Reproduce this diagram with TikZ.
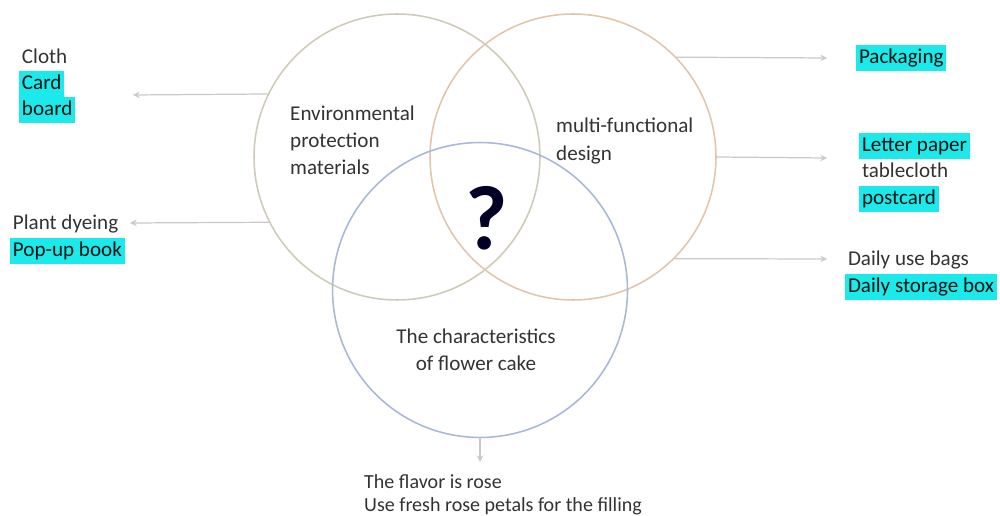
\documentclass[tikz,border=0pt]{standalone}
\usepackage{fontspec}
\setmainfont{Carlito}
\definecolor{envc}{HTML}{CFCBB8}
\definecolor{mfdc}{HTML}{E2C6AC}
\definecolor{cakec}{HTML}{A9B8D6}
\definecolor{arrc}{HTML}{C9C9C9}
\definecolor{txtc}{HTML}{333333}
\definecolor{hlc}{HTML}{1CEAEA}

\begin{document}
\begin{tikzpicture}
  [x=0.02cm,y=-0.02cm,>=stealth,
   ring/.style={circle,line width=0.9pt},
   item/.style={anchor=west,text=txtc,font=\fontsize{12}{14}\selectfont,
     inner xsep=1.5pt,inner ysep=1.1pt,text height=9.5pt,text depth=3pt},
   hilite/.style={item,fill=hlc,text=black!85!teal},
   tag/.style={text=txtc,font=\fontsize{12}{15.4}\selectfont},
   link/.style={->,arrc,line width=0.7pt}]
  \useasboundingbox (0,0) rectangle (1000,516);

  % the three sets
  \node[ring,draw=envc,minimum size=5.72cm] (env) at (397,157) {};
  \node[ring,draw=mfdc,minimum size=5.72cm] (mfd) at (573,157) {};
  \node[ring,draw=cakec,minimum size=5.9cm] (cake) at (480,290) {};

  \node[tag,align=left,anchor=west] (envtag) at (284,140) {Environmental\\protection\\materials};
  \node[tag,align=left,anchor=west] (mfdtag) at (550,141) {multi-functional\\design};
  \node[tag,align=center] (caketag) at (476,350) {The characteristics\\of flower cake};
  \node[font=\bfseries\fontsize{52}{52}\selectfont,text=black!85!blue] (ask) at (487,218) {?};

  % examples for each set
  \node[item] (cloth) at (19,58) {Cloth};
  \node[hilite] (card) at (19,84) {Card};
  \node[hilite] (board) at (19,110) {board};
  \node[item] (dye) at (10,224) {Plant dyeing};
  \node[hilite] (popup) at (10,251) {Pop-up book};

  \node[hilite] (pack) at (856,58) {Packaging};
  \node[hilite] (letter) at (859,146) {Letter paper};
  \node[item] (table) at (859,172) {tablecloth};
  \node[hilite] (post) at (859,199) {postcard};
  \node[item] (bags) at (845,260) {Daily use bags};
  \node[hilite] (box) at (845,287) {Daily storage box};

  \node[tag,align=left,anchor=west,font=\fontsize{11.4}{13}\selectfont] (rose) at (358,495)
    {The flavor is rose\\Use fresh rose petals for the filling};

  \coordinate (t1) at (133,95);
  \coordinate (t2) at (130,223);
  \coordinate (t3) at (827,58);
  \coordinate (t4) at (827,158);
  \coordinate (t5) at (827,259);
  \coordinate (t6) at (480,462);

  \draw[link] (env.154) -- (t1);
  \draw[link] (env.207.5) -- (t2);
  \draw[link] (mfd.44) -- (t3);
  \draw[link] (mfd.0) -- (t4);
  \draw[link] (mfd.-45.5) -- (t5);
  \draw[link] (cake.south) -- (t6);
\end{tikzpicture}
\end{document}
